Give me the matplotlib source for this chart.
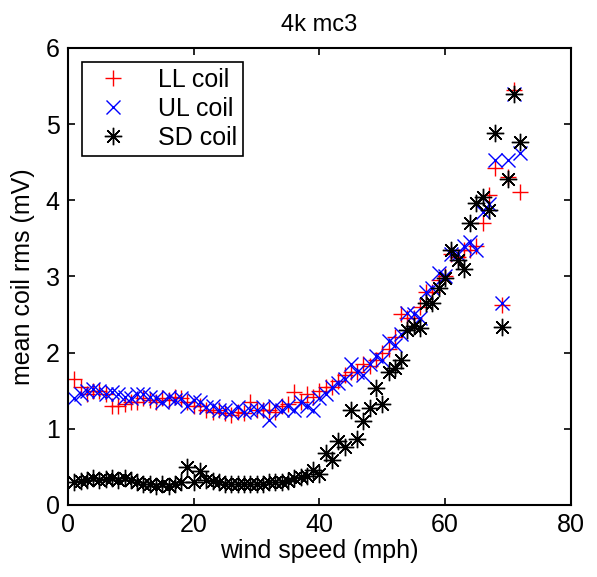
import numpy as np
import matplotlib.pyplot as plt

plt.rcParams['font.family'] = ['Liberation Sans', 'DejaVu Sans']

speed = np.arange(1, 73)

ll_coil = [1.65, 1.55, 1.45, 1.5, 1.5, 1.45, 1.3, 1.3, 1.32, 1.35,
           1.35, 1.4, 1.38, 1.35, 1.4, 1.38, 1.42, 1.4, 1.35, 1.3,
           1.3, 1.25, 1.22, 1.25, 1.2, 1.18, 1.22, 1.2, 1.35, 1.25,
           1.25, 1.25, 1.22, 1.3, 1.32, 1.48, 1.35, 1.45, 1.42, 1.5,
           1.55, 1.55, 1.62, 1.7, 1.75, 1.75, 1.85, 1.82, 1.9, 2.0,
           2.05, 2.2, 2.5, 2.45, 2.45, 2.6, 2.8, 2.8, 2.95, 3.0,
           3.3, 3.25, 3.35, 3.35, 3.4, 3.7, 4.07, 4.42, 2.62, 4.3,
           5.45, 4.11]

ul_coil = [1.4, 1.45, 1.5, 1.52, 1.5, 1.45, 1.48, 1.45, 1.42, 1.4,
           1.45, 1.45, 1.42, 1.4, 1.35, 1.42, 1.38, 1.4, 1.3, 1.38,
           1.35, 1.28, 1.3, 1.25, 1.25, 1.22, 1.28, 1.22, 1.25, 1.25,
           1.28, 1.12, 1.3, 1.25, 1.3, 1.25, 1.35, 1.3, 1.25, 1.4,
           1.45, 1.55, 1.6, 1.65, 1.85, 1.75, 1.7, 1.85, 1.95, 1.9,
           2.15, 2.1, 2.25, 2.52, 2.5, 2.45, 2.8, 2.85, 3.05, 3.0,
           3.3, 3.3, 3.4, 3.45, 3.35, 3.85, 3.95, 4.53, 2.65, 4.53,
           5.4, 4.62]

sd_coil = [0.3, 0.32, 0.33, 0.35, 0.33, 0.34, 0.35, 0.33, 0.35, 0.33,
           0.3, 0.28, 0.28, 0.25, 0.27, 0.25, 0.27, 0.3, 0.5, 0.3,
           0.45, 0.33, 0.32, 0.3, 0.28, 0.27, 0.28, 0.28, 0.27, 0.28,
           0.27, 0.3, 0.3, 0.3, 0.32, 0.35, 0.37, 0.38, 0.46, 0.41,
           0.68, 0.59, 0.84, 0.76, 1.25, 0.87, 1.1, 1.27, 1.53, 1.33,
           1.75, 1.8, 1.9, 2.3, 2.35, 2.32, 2.65, 2.65, 2.85, 2.98,
           3.35, 3.21, 3.1, 3.7, 3.96, 4.04, 3.87, 4.88, 2.34, 4.28,
           5.4, 4.76]

fig = plt.figure(figsize=(5.97, 5.77), dpi=100)
ax = fig.add_axes([0.114, 0.125, 0.842, 0.792])

ax.plot(speed, ll_coil, linestyle='none', marker='+', color='red',
        markersize=12, markeredgewidth=1.0, label='LL coil')
ax.plot(speed, ul_coil, linestyle='none', marker='x', color='blue',
        markersize=9.5, markeredgewidth=1.0, label='UL coil')
ax.plot(speed, sd_coil, linestyle='none', marker=(8, 2, 0), color='black',
        markersize=12.5, markeredgewidth=1.0, label='SD coil')

ax.set_xlim(0, 80)
ax.set_ylim(0, 6)
ax.set_xticks([0, 20, 40, 60, 80])
ax.set_yticks([0, 1, 2, 3, 4, 5, 6])
ax.tick_params(direction='in', top=True, right=True, labelsize=18,
               length=5, width=1.2, pad=6)
for s in ax.spines.values():
    s.set_linewidth(1.5)

ax.set_xlabel('wind speed (mph)', fontsize=18, labelpad=1)
ax.set_ylabel('mean coil rms (mV)', fontsize=18, labelpad=8)
ax.set_title('4k mc3', fontsize=17, pad=12)

leg = ax.legend(loc='upper left', fontsize=18, fancybox=False,
                edgecolor='black', framealpha=1, borderaxespad=0.55,
                handlelength=2.0, labelspacing=0.2, handletextpad=0.8,
                borderpad=0.25)
leg.get_frame().set_linewidth(1.2)

fig.savefig('out.png', dpi=100)
